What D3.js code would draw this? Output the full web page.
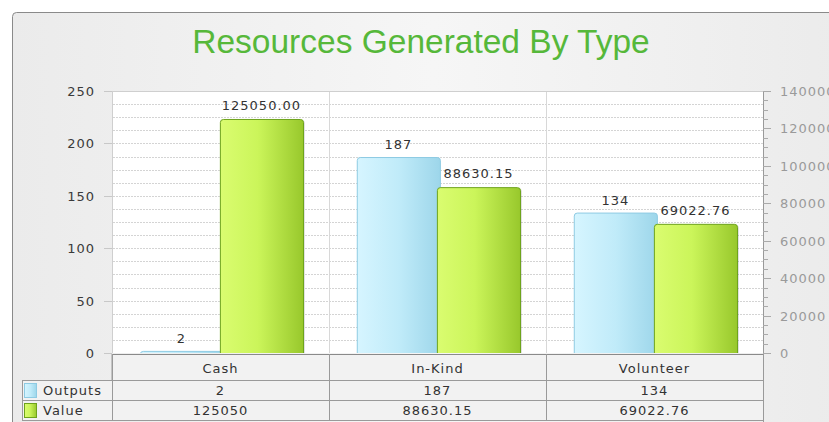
<!DOCTYPE html>
<html><head><meta charset="utf-8">
<script src="https://cdn.jsdelivr.net/npm/d3@7"></script>
<style>
html,body{margin:0;padding:0;background:#fff;overflow:hidden;}
text{font-family:"DejaVu Sans",Verdana,sans-serif;}
</style></head>
<body><svg id="c" width="829" height="422"></svg>
<script>
const categories = ["Cash", "In-Kind", "Volunteer"];
const outputs = [2, 187, 134];
const values = [125050, 88630.15, 69022.76];
const valueLabels = ["125050.00", "88630.15", "69022.76"];
const tableValues = ["125050", "88630.15", "69022.76"];
const seriesNames = ["Outputs", "Value"];
const leftTicks = [0, 50, 100, 150, 200, 250];
const rightTicks = [0, 20000, 40000, 60000, 80000, 100000, 120000, 140000];

const svg = d3.select("#c");
const W = 829, H = 422;
const L = 112, R = 763, T = 91, B = 353;

const defs = svg.append("defs");
const bg = defs.append("linearGradient").attr("id","bg").attr("x1","0").attr("x2","1");
bg.append("stop").attr("offset","0").attr("stop-color","#ebebeb");
bg.append("stop").attr("offset","0.5").attr("stop-color","#f6f6f6");
bg.append("stop").attr("offset","1").attr("stop-color","#ebebeb");
const gb = defs.append("linearGradient").attr("id","gBlue").attr("x1","0").attr("x2","1");
gb.append("stop").attr("offset","0").attr("stop-color","#d6f5ff");
gb.append("stop").attr("offset","0.5").attr("stop-color","#c0ebf9");
gb.append("stop").attr("offset","1").attr("stop-color","#9dd6ea");
const gg = defs.append("linearGradient").attr("id","gGreen").attr("x1","0").attr("x2","1");
gg.append("stop").attr("offset","0").attr("stop-color","#dafc70");
gg.append("stop").attr("offset","0.45").attr("stop-color","#cbf55a");
gg.append("stop").attr("offset","1").attr("stop-color","#98c82c");
defs.append("clipPath").attr("id","plotClip").append("rect")
  .attr("x", L).attr("y", T - 5).attr("width", R - L).attr("height", B - T + 5);

// outer frame
svg.append("rect").attr("x",12.5).attr("y",12.5).attr("width",840).attr("height",440)
  .attr("rx",4).attr("fill","url(#bg)").attr("stroke","#8a8a8a");

// title
svg.append("text").attr("x", 421).attr("y", 53).attr("text-anchor","middle")
  .style("font-family","'Liberation Sans',Arial,sans-serif").style("font-size","33.5px")
  .attr("fill","#56b83a").text("Resources Generated By Type");

const x = d3.scaleBand().domain(categories).range([L, R]);
const yL = d3.scaleLinear().domain([0, 250]).range([B, T]);
const yR = d3.scaleLinear().domain([0, 140000]).range([B, T]);

// plot background
svg.append("rect").attr("x",L).attr("y",T).attr("width",R-L).attr("height",B-T).attr("fill","#fff");

// grid lines (every 12.5 units)
const gridVals = d3.range(12.5, 250.1, 12.5);
svg.append("g").selectAll("line").data(gridVals).join("line")
  .attr("x1", L+1).attr("x2", R).attr("y1", d => Math.round(yL(d))+0.5).attr("y2", d => Math.round(yL(d))+0.5)
  .attr("stroke","#d4d4d4").attr("stroke-dasharray","2,1");

// vertical category separators
svg.append("g").selectAll("line").data(categories.slice(1)).join("line")
  .attr("x1", d => Math.round(x(d))+0.5).attr("x2", d => Math.round(x(d))+0.5)
  .attr("y1", T).attr("y2", B).attr("stroke","#d8d8d8");

// plot border
svg.append("line").attr("x1",L).attr("x2",R).attr("y1",T+0.5).attr("y2",T+0.5).attr("stroke","#cfcfcf");
svg.append("line").attr("x1",L+0.5).attr("x2",L+0.5).attr("y1",T).attr("y2",B).attr("stroke","#cfcfcf");

// left axis
const la = svg.append("g");
la.selectAll("line").data(leftTicks).join("line")
  .attr("x1", 104).attr("x2", L).attr("y1", d => Math.round(yL(d))+0.5).attr("y2", d => Math.round(yL(d))+0.5)
  .attr("stroke","#c8c8c8");
la.selectAll("text").data(leftTicks).join("text")
  .attr("x", 95).attr("y", d => yL(d)+5).attr("text-anchor","end")
  .style("font-size","13px").style("letter-spacing","1px").attr("fill","#3a3a3a").text(d => d);

// right axis
const ra = svg.append("g");
ra.append("line").attr("x1",R+0.5).attr("x2",R+0.5).attr("y1",T).attr("y2",H).attr("stroke","#999");
const minorR = d3.range(0, 140001, 5000);
ra.selectAll("line.t").data(minorR).join("line").attr("class","t")
  .attr("x1", R).attr("x2", d => d % 20000 === 0 ? R+8 : R+5)
  .attr("y1", d => Math.round(yR(d))+0.5).attr("y2", d => Math.round(yR(d))+0.5)
  .attr("stroke","#aaa");
ra.selectAll("text").data(rightTicks).join("text")
  .attr("x", 780).attr("y", d => yR(d)+5)
  .style("font-size","13px").style("letter-spacing","1px").attr("fill","#9a9a9a").text(d => d);

// bars
const bw = x.bandwidth();
const barW = bw * 0.383;
const blueOff = bw * 0.128;
const greenOff = blueOff + barW - 3;
const bars = svg.append("g").attr("clip-path","url(#plotClip)");
bars.selectAll("rect.o").data(categories).join("rect").attr("class","o")
  .attr("x", d => x(d) + blueOff + 0.5).attr("y", (d,i) => yL(outputs[i]) + 0.5)
  .attr("width", barW).attr("height", (d,i) => B - yL(outputs[i]) + 6)
  .attr("rx", 3).attr("fill","url(#gBlue)").attr("stroke","#8ecbe3");
// shadow for green
bars.selectAll("rect.s").data(categories).join("rect").attr("class","s")
  .attr("x", d => x(d) + greenOff + 2).attr("y", (d,i) => yR(values[i]) + 1.5)
  .attr("width", barW).attr("height", (d,i) => B - yR(values[i]) + 6)
  .attr("rx", 3).attr("fill","#000").attr("opacity",0.12);
bars.selectAll("rect.v").data(categories).join("rect").attr("class","v")
  .attr("x", d => x(d) + greenOff + 0.5).attr("y", (d,i) => yR(values[i]) + 0.5)
  .attr("width", barW).attr("height", (d,i) => B - yR(values[i]) + 6)
  .attr("rx", 3).attr("fill","url(#gGreen)").attr("stroke","#6ea31c");

// bar labels
const lbl = svg.append("g").style("font-size","13px").style("letter-spacing","1px").attr("fill","#333");
lbl.selectAll("text.o").data(categories).join("text").attr("class","o")
  .attr("x", d => x(d) + blueOff + barW/2).attr("y", (d,i) => yL(outputs[i]) - 8)
  .attr("text-anchor","middle").text((d,i) => outputs[i]);
lbl.selectAll("text.v").data(categories).join("text").attr("class","v")
  .attr("x", d => x(d) + greenOff + barW/2).attr("y", (d,i) => yR(values[i]) - 9)
  .attr("text-anchor","middle").text((d,i) => valueLabels[i]);

// data table
const tb = svg.append("g");
const TL = 22.5;
const rows = [
  {y0: 354, y1: 380, x0: L},
  {y0: 380, y1: 400, x0: TL},
  {y0: 400, y1: 420, x0: TL}
];
tb.selectAll("rect.row").data(rows).join("rect").attr("class","row")
  .attr("x", d => d.x0).attr("y", d => d.y0 + 0.5).attr("width", d => R - d.x0 + 0.5).attr("height", d => d.y1 - d.y0)
  .attr("fill","#f2f2f2").attr("stroke","#9a9a9a");
tb.append("line").attr("x1",L).attr("x2",R).attr("y1",354.5).attr("y2",354.5).attr("stroke","#8a8a8a");
// column separators
tb.selectAll("line.col").data(categories).join("line").attr("class","col")
  .attr("x1", d => Math.round(x(d))+0.5).attr("x2", d => Math.round(x(d))+0.5)
  .attr("y1", 354).attr("y2", 420.5).attr("stroke","#9a9a9a");
const tt = tb.append("g").style("font-size","13px").style("letter-spacing","1px").attr("fill","#333");
tt.selectAll("text.h").data(categories).join("text").attr("class","h")
  .attr("x", d => x(d) + bw/2).attr("y", 373).attr("text-anchor","middle").text(d => d);
tt.selectAll("text.r1").data(categories).join("text").attr("class","r1")
  .attr("x", d => x(d) + bw/2).attr("y", 395).attr("text-anchor","middle").text((d,i) => outputs[i]);
tt.selectAll("text.r2").data(categories).join("text").attr("class","r2")
  .attr("x", d => x(d) + bw/2).attr("y", 415).attr("text-anchor","middle").text((d,i) => tableValues[i]);
// legend cells
const fills = ["url(#gBlue)", "url(#gGreen)"];
const strokes = ["#8ecbe3", "#6ea31c"];
seriesNames.forEach((s, i) => {
  const y0 = rows[i+1].y0;
  tb.append("rect").attr("x", 24.5).attr("y", y0 + 3.5).attr("width", 12).attr("height", 14)
    .attr("fill", fills[i]).attr("stroke", strokes[i]);
  tt.append("text").attr("x", 43).attr("y", y0 + 15).text(s);
});
</script></body></html>
